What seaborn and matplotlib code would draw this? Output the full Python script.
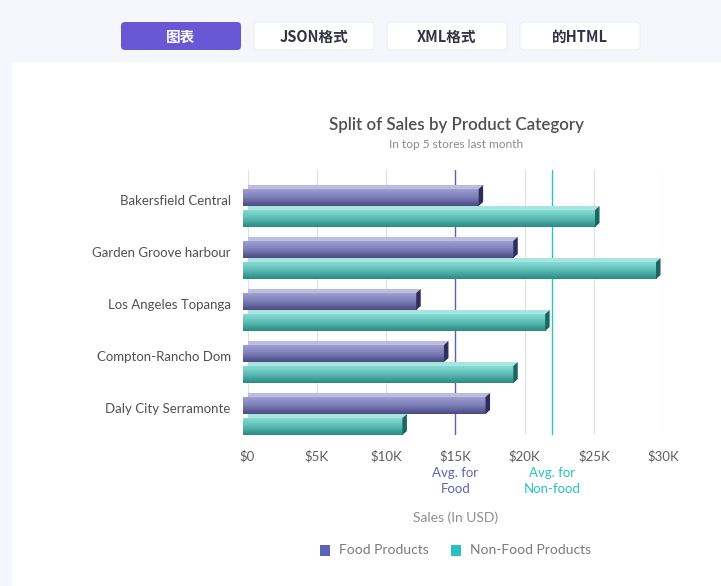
import numpy as np
import pandas as pd
import matplotlib
matplotlib.use("Agg")
import matplotlib.pyplot as plt
import seaborn as sns
from matplotlib.patches import Polygon, FancyBboxPatch, Rectangle
from matplotlib.colors import LinearSegmentedColormap
from matplotlib.transforms import ScaledTranslation, blended_transform_factory

# ---- data ----
stores = ["Bakersfield Central", "Garden Groove harbour", "Los Angeles Topanga",
          "Compton-Rancho Dom", "Daly City Serramonte"]
food_sales = [17000, 19500, 12500, 14500, 17500]
nonfood_sales = [25400, 29800, 21800, 19500, 11500]
series_names = ["Food Products", "Non-Food Products"]
avg_food = 15000
avg_nonfood = 22000
x_ticks = [0, 5000, 10000, 15000, 20000, 25000, 30000]
x_tick_labels = ["$0", "$5K", "$10K", "$15K", "$20K", "$25K", "$30K"]
tabs = ["图表", "JSON格式", "XML格式", "的HTML"]

df = pd.DataFrame({
    "store": stores * 2,
    "sales": food_sales + nonfood_sales,
    "series": [series_names[0]] * len(stores) + [series_names[1]] * len(stores),
})

sns.set_theme(style="white")
plt.rcParams["font.family"] = ["Lato", "Noto Sans CJK SC", "DejaVu Sans"]

W, H = 721, 586
fig = plt.figure(figsize=(W / 100, H / 100), dpi=100)
fig.patch.set_facecolor("#f6f7fc")

# white card
fig.patches.append(Rectangle((12 / W, 0), 1, (H - 62) / H, transform=fig.transFigure,
                             facecolor="white", edgecolor="none", zorder=-10))

# tabs
tab_x = [121, 254, 387, 520]
for i, (t, tx) in enumerate(zip(tabs, tab_x)):
    active = i == 0
    fig.patches.append(FancyBboxPatch((tx / W, (H - 50) / H), 120 / W, 28 / H,
                                      boxstyle="round,pad=0,rounding_size=0.006",
                                      transform=fig.transFigure,
                                      facecolor="#6a57d5" if active else "white",
                                      edgecolor="#eceef5" if not active else "none",
                                      linewidth=0.8, zorder=-9))
    fig.text((tx + 60) / W, (H - 37) / H, t, ha="center", va="center",
             fontsize=10.5, fontweight="bold",
             color="white" if active else "#333344",
             family=["Noto Sans CJK SC", "DejaVu Sans"])

# axes
x0_px, x1_px = 247.5, 663.3
y_top_px, y_bot_px = 170, 435
ax = fig.add_axes([x0_px / W, 1 - y_bot_px / H, (x1_px - x0_px) / W, (y_bot_px - y_top_px) / H])
ax.set_facecolor("none")
ax.set_zorder(5)

palette = {series_names[0]: "#7a7ab8", series_names[1]: "#52b8b0"}
sns.barplot(data=df, y="store", x="sales", hue="series", order=stores,
            hue_order=series_names, palette=palette, width=0.81, orient="h",
            ax=ax, legend=False, saturation=1)

ax.set_xlim(0, 30000)
ax.set_ylim(4 + 21 / 52, -36 / 52)

# 3D styling
px_x = (x1_px - x0_px) / 30000.0
px_y = 52.0
dx = 4.5 / px_x
dy = 4.0 / px_y

styles = [
    dict(top="#a2a2d4", mid="#7f7fba", bot="#4a4a82", cap="#bcbce0", side="#2e2e5c"),
    dict(top="#8ddfd7", mid="#5cbdb5", bot="#2b8a83", cap="#a8e5e0", side="#1c6662"),
]
cmaps = [LinearSegmentedColormap.from_list("g%d" % i, [s["top"], s["mid"], s["bot"]])
         for i, s in enumerate(styles)]

patches = list(ax.patches)
n = len(stores)
for k, p in enumerate(patches):
    si = k // n
    st = styles[si]
    x, y = p.get_x(), p.get_y()
    w, h = p.get_width(), p.get_height()
    fx0, fx1 = x - dx, x + w - dx
    fy0, fy1 = y + dy, y + h
    p.set_x(fx0)
    p.set_y(fy0)
    p.set_height(fy1 - fy0)
    p.set_edgecolor("none")
    p.set_zorder(3)
    grad = np.linspace(0, 1, 64).reshape(-1, 1)
    im = ax.imshow(grad, cmap=cmaps[si], aspect="auto",
                   extent=(fx0, fx1, fy1, fy0), zorder=3.5, interpolation="bilinear")
    im.set_clip_path(p)
    ax.add_patch(Polygon([(fx0, fy0), (fx1, fy0), (x + w, y), (x, y)], closed=True,
                         facecolor=st["cap"], edgecolor="none", zorder=4))
    ax.add_patch(Polygon([(fx1, fy0), (x + w, y), (x + w, y + h - dy), (fx1, fy1)], closed=True,
                         facecolor=st["side"], edgecolor="none", zorder=4))

ax.set_xlim(0, 30000)
ax.set_ylim(4 + 21 / 52, -36 / 52)
ax.set_aspect("auto")

# gridlines
for v in x_ticks:
    ax.axvline(v, color="#e2e2e2", lw=0.9, zorder=1)
ax.axvline(avg_food, color="#5d62b5", lw=1, zorder=2)
ax.axvline(avg_nonfood, color="#29c3be", lw=1, zorder=2)

for s in ax.spines.values():
    s.set_visible(False)
ax.set_xticks(x_ticks)
ax.set_xticklabels(x_tick_labels, fontsize=9.5, color="#5f5f5f")
ax.tick_params(axis="x", length=0, pad=11)
ax.tick_params(axis="y", length=0, pad=12)
ax.set_yticks(range(n))
ax.set_yticklabels(stores, fontsize=9.5, color="#505050")
for lab in ax.get_yticklabels():
    lab.set_transform(lab.get_transform() + ScaledTranslation(0, 6 / 100, fig.dpi_scale_trans))
ax.set_xlabel("")
ax.set_ylabel("")

# avg labels
bt = blended_transform_factory(ax.transData, fig.transFigure)
ax.text(avg_food, 1 - 481 / H, "Avg. for\nFood", transform=bt, ha="center", va="center",
        fontsize=9.5, color="#5d62b5", linespacing=1.35, clip_on=False)
ax.text(avg_nonfood, 1 - 481 / H, "Avg. for\nNon-food", transform=bt, ha="center", va="center",
        fontsize=9.5, color="#29c3be", linespacing=1.35, clip_on=False)

# titles
fig.text(456 / W, 1 - 125 / H, "Split of Sales by Product Category", ha="center", va="center",
         fontsize=12.2, color="#505050", fontweight="semibold")
fig.text(456 / W, 1 - 145 / H, "In top 5 stores last month", ha="center", va="center",
         fontsize=8.6, color="#8a8a8a")
fig.text(456 / W, 1 - 518 / H, "Sales (In USD)", ha="center", va="center",
         fontsize=10, color="#8f8f8f")

# legend
leg_cols = ["#5d62b5", "#29c3be"]
leg_x = [320, 451]
for name, c, lx in zip(series_names, leg_cols, leg_x):
    fig.patches.append(Rectangle((lx / W, 1 - 555.5 / H), 10 / W, 11 / H,
                                 transform=fig.transFigure, facecolor=c, edgecolor="none"))
    fig.text((lx + 19) / W, 1 - 550 / H, name, ha="left", va="center",
             fontsize=10, color="#7a7a7a")

fig.savefig("out.png", dpi=100, facecolor=fig.get_facecolor())
